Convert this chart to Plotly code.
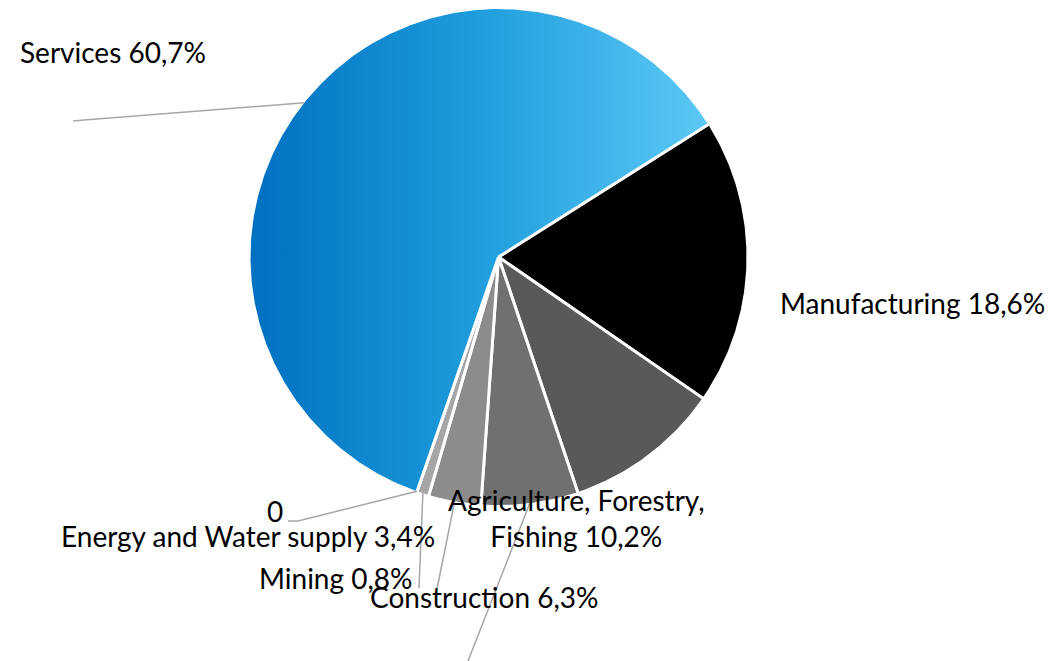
import math
import plotly.graph_objects as go

# Share of employment by sector (percent)
sectors = ["Manufacturing", "Agriculture, Forestry, Fishing", "Construction",
           "Energy and Water supply", "Mining", "", "Services"]
shares = [18.6, 10.2, 6.3, 3.4, 0.8, 0, 60.7]
slice_colors = ["#000000", "#595959", "#707070", "#8c8c8c", "#a6a6a6", "#bfbfbf", None]
services_gradient = [[0.0, "#0070c0"], [0.5, "#1f9ddd"], [1.0, "#5dc9f5"]]

W, H = 1057, 661
CX, CY, R = 498.5, 257.0, 248.0
ROTATION = 57.7          # first slice starts here, degrees clockwise from 12 o'clock
FONT = dict(family="Lato, 'Open Sans', sans-serif", size=28, color="#000000")
LEADER_COLOR = "#a6a6a6"

# label centres and leader-line elbows, in pixel coordinates
label_pos = {
    "Services": (113, 52),
    "Manufacturing": (912, 303),
    "Agriculture, Forestry, Fishing": (576, 518),
    "Construction": (484, 597),
    "Energy and Water supply": (248, 536),
    "Mining": (335, 578),
    "": (275, 511),
}
leader_path = {
    "Services": [(84, 120), (73, 121)],
    "": [(298, 521), (288, 521)],
    "Mining": [(419, 588)],
    "Energy and Water supply": [(436, 594)],
    "Construction": [(468, 661)],
}
wrap_after = {"Agriculture, Forestry, Fishing": "Forestry,"}


def point(theta_deg, r=R):
    t = math.radians(theta_deg)
    return CX + r * math.sin(t), CY - r * math.cos(t)


def label_text(name, value):
    if not name:
        return f"{value:g}"
    text = f"{name} {value:.1f}%".replace(".", ",")
    if name in wrap_after:
        key = wrap_after[name]
        text = text.replace(key + " ", key + "<br>")
    return text


fig = go.Figure()
total = sum(shares)
angle = ROTATION
shapes = []
annotations = []
for name, value, color in zip(sectors, shares, slice_colors):
    sweep = 360.0 * value / total
    n = max(2, int(sweep * 2) + 2)
    xs, ys = [CX], [CY]
    for k in range(n):
        x, y = point(angle + sweep * k / (n - 1), R + 1.5)
        xs.append(x)
        ys.append(y)
    xs.append(CX)
    ys.append(CY)

    trace = dict(x=xs, y=ys, mode="lines", fill="toself",
                 line=dict(color="#ffffff", width=3),
                 hoveron="fills", hoverinfo="text",
                 text=f"{name or '(none)'}: {value:g}%", name=name)
    if color is None:
        trace["fillgradient"] = dict(type="horizontal", colorscale=services_gradient)
    else:
        trace["fillcolor"] = color
    fig.add_trace(go.Scatter(**trace))

    mid = angle + sweep / 2
    if name in leader_path:
        x0, y0 = point(mid)
        pts = [(x0, y0)] + leader_path[name]
        path = "M " + " L ".join(f"{px:.1f},{py:.1f}" for px, py in pts)
        shapes.append(dict(type="path", path=path, xref="x", yref="y",
                           line=dict(color=LEADER_COLOR, width=1.5)))
    lx, ly = label_pos[name]
    annotations.append(dict(x=lx, y=ly, xref="x", yref="y", text=label_text(name, value),
                            showarrow=False, xanchor="center", yanchor="middle",
                            font=FONT, align="center"))
    angle += sweep

fig.update_layout(
    width=W, height=H,
    margin=dict(l=0, r=0, t=0, b=0),
    paper_bgcolor="#ffffff", plot_bgcolor="#ffffff",
    showlegend=False,
    xaxis=dict(range=[0, W], visible=False, fixedrange=True),
    yaxis=dict(range=[H, 0], visible=False, fixedrange=True),
    shapes=shapes,
    annotations=annotations,
)

fig.write_html("out.html")
